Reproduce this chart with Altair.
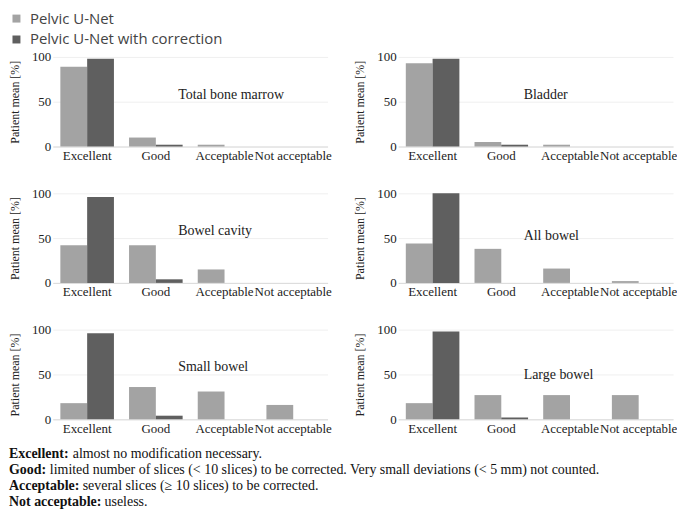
import altair as alt
import pandas as pd

categories = ["Excellent", "Good", "Acceptable", "Not acceptable"]
series = ["Pelvic U-Net", "Pelvic U-Net with correction"]
panels = ["Total bone marrow", "Bladder", "Bowel cavity", "All bowel", "Small bowel", "Large bowel"]

# Patient mean [%] per category, Pelvic U-Net
tbm_unet = [89, 10, 2, 0]
bladder_unet = [93, 5, 2, 0]
cavity_unet = [42, 42, 15, 0]
allbowel_unet = [44, 38, 16, 2]
small_unet = [18, 36, 31, 16]
large_unet = [18, 27, 27, 27]

# Patient mean [%] per category, Pelvic U-Net with correction
tbm_corr = [98, 2, 0, 0]
bladder_corr = [98, 2, 0, 0]
cavity_corr = [96, 4, 0, 0]
allbowel_corr = [100, 0, 0, 0]
small_corr = [96, 4, 0, 0]
large_corr = [98, 2, 0, 0]

footer_terms = ["Excellent:", "Good:", "Acceptable:", "Not acceptable:"]
footer_defs = [
    "almost no modification necessary.",
    "limited number of slices (< 10 slices) to be corrected. Very small deviations (< 5 mm) not counted.",
    "several slices (\u2265 10 slices) to be corrected.",
    "useless.",
]

unet_vals = [tbm_unet, bladder_unet, cavity_unet, allbowel_unet, small_unet, large_unet]
corr_vals = [tbm_corr, bladder_corr, cavity_corr, allbowel_corr, small_corr, large_corr]

rows = []
for p, u, c in zip(panels, unet_vals, corr_vals):
    for cat, vu, vc in zip(categories, u, c):
        rows.append({"panel": p, "category": cat, "series": series[0], "value": vu})
        rows.append({"panel": p, "category": cat, "series": series[1], "value": vc})
df = pd.DataFrame(rows)

SERIF = "Liberation Serif"
W, H = 276, 90
label_dy = [38, 38, 38, 43, 37, 46]


def panel(name, dy):
    base = alt.Chart(df).transform_filter(alt.datum.panel == name)
    bars = base.mark_bar().encode(
        x=alt.X("category:N", sort=categories, title=None,
                scale=alt.Scale(paddingInner=0.22, paddingOuter=0.11),
                axis=alt.Axis(labelAngle=0, ticks=False, domain=True, domainColor="#dadada",
                              grid=False, labelPadding=3, labelFont=SERIF, labelFontSize=13,
                              labelColor="#222")),
        xOffset=alt.XOffset("series:N", sort=series),
        y=alt.Y("value:Q", scale=alt.Scale(domain=[0, 100]),
                axis=alt.Axis(values=[0, 50, 100], title="Patient mean [%]", ticks=False, domain=False,
                              gridColor="#efefef", labelPadding=2, labelFont=SERIF, labelFontSize=13,
                              labelColor="#222", titleFont=SERIF, titleFontSize=12,
                              titleFontWeight="normal", titleColor="#222", titlePadding=10)),
        color=alt.Color("series:N", scale=alt.Scale(domain=series, range=["#a3a3a3", "#5f5f5f"]),
                        legend=alt.Legend(title=None, orient="none", legendX=-44, legendY=-46,
                                          direction="vertical", symbolType="square", symbolSize=64,
                                          symbolStrokeWidth=0, symbolOpacity=1, labelFont="Open Sans",
                                          labelFontSize=15, labelColor="#444", labelOffset=6,
                                          labelLimit=0, rowPadding=5)),
    )
    label = alt.Chart(pd.DataFrame({"t": [name]})).mark_text(
        align="left", baseline="middle", font=SERIF, fontSize=14, color="#222"
    ).encode(x=alt.value(126), y=alt.value(dy), text="t:N")
    return alt.layer(bars, label).properties(width=W, height=H)


grid_rows = []
for i in range(0, 6, 2):
    grid_rows.append(alt.hconcat(panel(panels[i], label_dy[i]), panel(panels[i + 1], label_dy[i + 1]), spacing=22))
grid = alt.vconcat(*grid_rows, spacing=25)

FOOT_X0 = -44
def_x = [FOOT_X0 + v for v in [64, 41, 74, 96]]
fdf = pd.DataFrame({"row": list(range(4)), "term": footer_terms, "defn": footer_defs, "dx": def_x})
fbase = alt.Chart(fdf)
fy = alt.Y("row:O", axis=None, scale=alt.Scale(paddingInner=0, paddingOuter=0))
terms = fbase.mark_text(align="left", baseline="middle", font=SERIF, fontSize=14, fontWeight="bold",
                        color="#111").encode(x=alt.value(FOOT_X0), y=fy, text="term:N")
defs = fbase.mark_text(align="left", baseline="middle", font=SERIF, fontSize=14,
                       color="#111").encode(x=alt.X("dx:Q", scale=None), y=fy, text="defn:N")
footer = alt.layer(terms, defs).properties(width=600, height=64)

chart = alt.vconcat(grid, footer, spacing=11).properties(
    padding={"top": 2, "left": 0, "right": 0, "bottom": 0}, background="white"
).configure_view(stroke=None).configure_concat(spacing=0)

chart.save("out.html", embed_options={"renderer": "svg", "actions": False})
